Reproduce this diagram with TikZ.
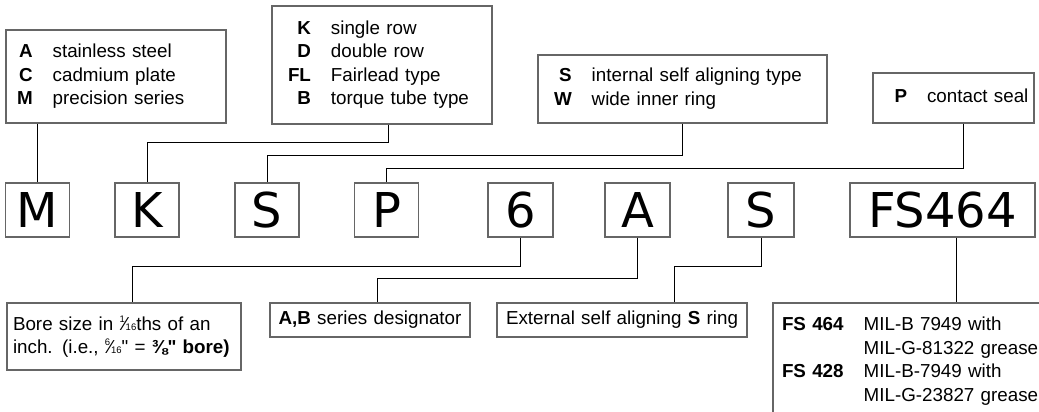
\documentclass[tikz,border=0pt]{standalone}
\usepackage{fontspec}
\setmainfont{Liberation Sans}
\newfontfamily\keyfont{DejaVu Sans}
\newfontfamily\plainfont{Liberation Sans}
\newcommand{\inchmark}{{\plainfont"}}
\newcommand{\slimfrac}[2]{\raisebox{0.42em}{\fontsize{9.5}{9.5}\selectfont #1}\kern-0.06em\char"2044\kern-0.06em{\fontsize{9.5}{9.5}\selectfont #2}}

\tikzset{
  keybox/.style={draw=black!60, line width=1.1pt, inner sep=0pt,
    minimum width=64pt, minimum height=54pt, text height=35pt, text depth=0pt,
    font=\keyfont\fontsize{48}{48}\selectfont},
  infobox/.style={draw=black!60, line width=1.1pt, inner ysep=0pt,
    align=left, font=\fontsize{18.8}{23.5}\selectfont},
  link/.style={draw=black, line width=1pt}
}

\begin{document}
\begin{tikzpicture}[x=1pt,y=-1pt]
\clip (0,0) rectangle (1039,412);
\fill[white] (0,0) rectangle (1039,412);

% part number
\node[keybox] (M) at (37.5,210) {M};
\node[keybox] (K) at (147,210) {K};
\node[keybox] (S) at (267,210) {S};
\node[keybox] (P) at (386.5,210) {P};
\node[keybox, minimum width=65pt] (six) at (520.5,210) {6};
\node[keybox, minimum width=65pt] (A) at (637.5,210) {A};
\node[keybox, minimum width=66pt] (S2) at (761,210) {S};
\node[keybox, minimum width=185pt] (FSkey) at (942.5,210) {FS464};

% options above
\node[infobox, inner xsep=11pt, text width=198pt, minimum height=93pt] (acm) at (116,76.5)
  {\begin{tabular}{@{}r@{\hspace{20pt}}l@{}}
   \textbf{A} & stainless steel\\
   \textbf{C} & cadmium plate\\
   \textbf{M} & precision series
   \end{tabular}};
\node[infobox, inner xsep=16pt, text width=188pt, minimum height=118pt] (kdfl) at (382,65)
  {\begin{tabular}{@{}r@{\hspace{20pt}}l@{}}
   \textbf{K} & single row\\
   \textbf{D} & double row\\
   \textbf{FL} & Fairlead type\\
   \textbf{B} & torque tube type
   \end{tabular}};
\node[infobox, inner xsep=16pt, text width=257pt, minimum height=68pt] (sw) at (682.5,89)
  {\begin{tabular}{@{}r@{\hspace{20pt}}l@{}}
   \textbf{S} & internal self aligning type\\
   \textbf{W} & wide inner ring
   \end{tabular}};
\node[infobox, inner xsep=9pt, text width=143pt, minimum height=50pt] (pseal) at (953.5,98)
  {\hspace*{12.5pt}\begin{tabular}{@{}r@{\hspace{20pt}}l@{}}
   \textbf{P} & contact seal
   \end{tabular}};

% options below
\node[infobox, inner xsep=6pt, text width=222pt, minimum height=67pt] (bore) at (124,336.5)
  {Bore size in \slimfrac{1}{16}ths of an\\
   inch. (i.e., \slimfrac{6}{16}\inchmark{} = \textbf{⅜\inchmark{} bore)}};
\node[infobox, align=center, inner xsep=8pt, text width=184pt, minimum height=34pt] (series) at (370,320)
  {\textbf{A,B} series designator};
\node[infobox, align=center, inner xsep=9pt, text width=232pt, minimum height=34pt] (ext) at (622,320)
  {External self aligning \textbf{S} ring};
\node[infobox, inner xsep=9pt, text width=259pt, minimum height=117pt] (grease) at (911.5,361.5)
  {\begin{tabular}{@{}l@{\hspace{20pt}}l@{}}
   \textbf{FS 464} & MIL-B 7949 with\\
    & MIL-G-81322 grease\\
   \textbf{FS 428} & MIL-B-7949 with\\
    & MIL-G-23827 grease
   \end{tabular}};

% leaders
\draw[link] (M.north |- acm.south) -- (M.north);
\draw[link] ([xshift=6pt]kdfl.south) -- ++(0,18) -| (K.north);
\draw[link] (sw.south) -- ++(0,32) -| (S.north);
\draw[link] ([xshift=9.5pt]pseal.south) -- ++(0,45) -| (P.north);
\draw[link] (six.south) -- ++(0,29) -| ([xshift=8pt]bore.north);
\draw[link] (A.south) -- ++(0,41) -| ([xshift=7pt]series.north);
\draw[link] (S2.south) -- ++(0,29) -| ([xshift=52pt]ext.north);
\draw[link] ([xshift=13.5pt]FSkey.south) -- ([xshift=13.5pt]FSkey.south |- grease.north);
\end{tikzpicture}
\end{document}
